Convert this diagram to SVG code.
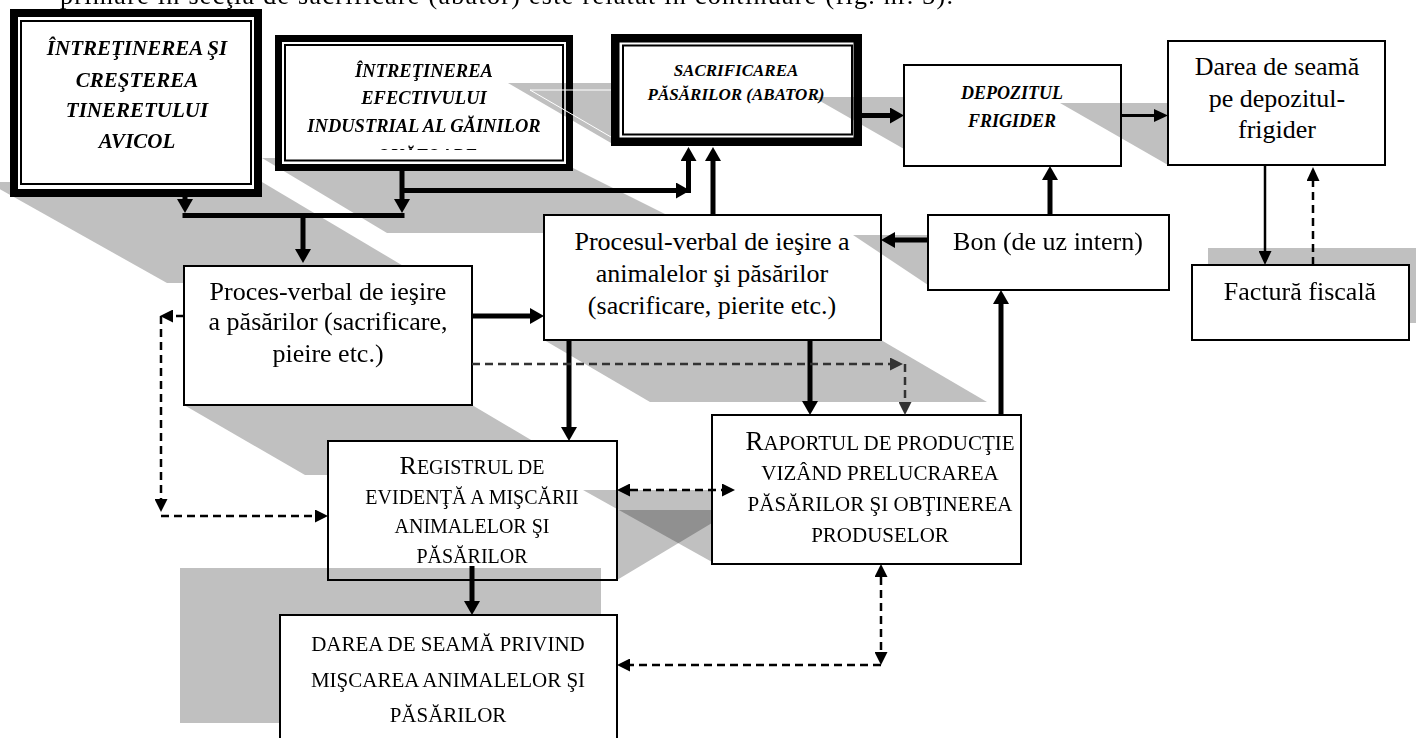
<svg xmlns="http://www.w3.org/2000/svg" width="1416" height="738" viewBox="0 0 1416 738">
<style>
.t{font-family:"Liberation Serif","Times New Roman",serif;font-size:26px;fill:#000;text-anchor:middle}
.bi{font-family:"Liberation Serif","Times New Roman",serif;font-weight:bold;font-style:italic}
.box{fill:#fff;stroke:#000;stroke-width:2}
.frame{fill:none;stroke:#000}
.shu{fill:#c0c0c0}
.sho{fill:#c0c0c0;mix-blend-mode:multiply}
.th{fill:none;stroke:#000;stroke-width:5}
.sl{fill:none;stroke:#000;stroke-width:2.5}
.ds{fill:none;stroke:#000;stroke-width:2.5;stroke-dasharray:8 5}
.dg{fill:none;stroke:#333;stroke-width:2.5;stroke-dasharray:8 5}
</style>
<defs>
<marker id="aT" viewBox="0 0 14 16" refX="0" refY="8" markerWidth="14" markerHeight="16" markerUnits="userSpaceOnUse" orient="auto-start-reverse"><path d="M0,0L14,8L0,16z" fill="#000"/></marker>
<marker id="aS" viewBox="0 0 14 13" refX="0" refY="6.5" markerWidth="14" markerHeight="13" markerUnits="userSpaceOnUse" orient="auto-start-reverse"><path d="M0,0L14,6.5L0,13z" fill="#000"/></marker>
<marker id="aD" viewBox="0 0 13 13" refX="0" refY="6.5" markerWidth="13" markerHeight="13" markerUnits="userSpaceOnUse" orient="auto-start-reverse"><path d="M0,0L13,6.5L0,13z" fill="#000"/></marker>
<marker id="aG" viewBox="0 0 13 13" refX="0" refY="6.5" markerWidth="13" markerHeight="13" markerUnits="userSpaceOnUse" orient="auto-start-reverse"><path d="M0,0L13,6.5L0,13z" fill="#333"/></marker>
<clipPath id="c2"><rect x="285" y="45" width="278" height="105"/></clipPath>
</defs>
<rect width="1416" height="738" fill="#fff"/>
<text class="t" x="60" y="4" style="text-anchor:start" textLength="893" lengthAdjust="spacing">primare în secţia de sacrificare (abator) este relatat în continuare (fig. nr. 3).</text>

<g id="shadows">
<polygon class="shu" points="-13,182 262,182 432,283 167,283"/>
<polygon class="shu" points="262,158 553,158 703,233 387,233"/>
<polygon class="shu" points="184,405 472,405 590,475 305,475"/>
<polygon class="shu" points="544,340 881,340 987,402 650,402"/>
<rect class="shu" x="1208" y="248" width="208" height="75"/>
</g>

<g id="n1">
<rect x="14" y="13" width="244" height="180" fill="#fff" stroke="#000" stroke-width="8"/>
<rect class="frame" x="21" y="21" width="230" height="163" stroke-width="2"/>
<text class="t bi" font-weight="bold" font-style="italic" style="font-size:21px"><tspan x="137" y="55">ÎNTREŢINEREA ŞI</tspan><tspan x="137" y="87">CREŞTEREA</tspan><tspan x="137" y="117">TINERETULUI</tspan><tspan x="137" y="148">AVICOL</tspan></text>
</g>

<g id="n2">
<rect x="278.5" y="38.5" width="291" height="129" fill="#fff" stroke="#000" stroke-width="7"/>
<rect class="frame" x="285" y="45" width="278" height="115.5" stroke-width="2"/>
<text class="t bi" font-weight="bold" font-style="italic" style="font-size:18.5px"><tspan x="424" y="77">ÎNTREŢINEREA</tspan><tspan x="424" y="104">EFECTIVULUI</tspan><tspan x="424" y="132">INDUSTRIAL AL GĂINILOR</tspan></text>
<text class="t bi" font-weight="bold" font-style="italic" style="font-size:18.5px" x="427" y="162" clip-path="url(#c2)">OUĂTOARE</text>
</g>

<g id="n3shadow">
<polygon class="sho" points="508,83 611,83 611,143"/>
<polyline points="611,90 530,90 611,137" fill="none" stroke="#fff" stroke-width="1"/>
</g>

<g id="n3">
<rect x="615.25" y="38.25" width="242.5" height="103.5" fill="#fff" stroke="#000" stroke-width="8.5"/>
<rect class="frame" x="623" y="45.5" width="229" height="89" stroke-width="2"/>
<text class="t bi" font-weight="bold" font-style="italic" style="font-size:17px"><tspan x="736" y="76">SACRIFICAREA</tspan><tspan x="736" y="100">PĂSĂRILOR (ABATOR)</tspan></text>
</g>
<polygon class="sho" points="813,97 904,97 904,149"/>

<g id="n4">
<rect class="box" x="904" y="65" width="217" height="101"/>
<text class="t bi" font-weight="bold" font-style="italic" style="font-size:18px"><tspan x="1012" y="99">DEPOZITUL</tspan><tspan x="1012" y="127">FRIGIDER</tspan></text>
</g>
<polygon class="sho" points="1060,103 1168,103 1168,165"/>

<g id="n5">
<rect class="box" x="1168" y="41" width="217" height="124"/>
<text class="t"><tspan x="1277" y="75">Darea de seamă</tspan><tspan x="1277" y="107">pe depozitul-</tspan><tspan x="1277" y="138">frigider</tspan></text>
</g>

<g id="n6">
<rect class="box" x="544" y="215" width="337" height="125"/>
<text class="t"><tspan x="712" y="250">Procesul-verbal de ieşire a</tspan><tspan x="712" y="282">animalelor şi păsărilor</tspan><tspan x="712" y="314">(sacrificare, pierite etc.)</tspan></text>
</g>
<polygon class="sho" points="853,235 928,235 928,285"/>

<g id="n7">
<rect class="box" x="928" y="215" width="241" height="75"/>
<text class="t" x="1048" y="250">Bon (de uz intern)</text>
</g>

<g id="n8">
<rect class="box" x="1192" y="265" width="217" height="75"/>
<text class="t" x="1300" y="300">Factură fiscală</text>
</g>

<g id="n9">
<rect class="box" x="184" y="266" width="288" height="139"/>
<text class="t"><tspan x="328" y="300">Proces-verbal de ieşire</tspan><tspan x="328" y="330">a păsărilor (sacrificare,</tspan><tspan x="328" y="362">pieire etc.)</tspan></text>
</g>

<g id="n10">
<rect class="box" x="328" y="441" width="289" height="139"/>
<text class="t" style="font-size:20px"><tspan x="472" y="474"><tspan style="font-size:26px">R</tspan>EGISTRUL DE</tspan><tspan x="472" y="504">EVIDENŢĂ A MIŞCĂRII</tspan><tspan x="472" y="533">ANIMALELOR ŞI</tspan><tspan x="472" y="563">PĂSĂRILOR</tspan></text>
</g>
<g id="n11shadow">
<polygon class="sho" points="583,490 712,490 712,562"/>
<polygon class="sho" points="617,510 712,510 712,523 617,580"/>
<rect class="sho" x="180" y="568" width="421" height="155"/>
</g>

<g id="n11">
<rect class="box" x="712" y="415" width="309" height="149"/>
<text class="t" style="font-size:21px"><tspan x="880" y="450"><tspan style="font-size:27px">R</tspan>APORTUL DE PRODUCŢIE</tspan><tspan x="880" y="480">VIZÂND PRELUCRAREA</tspan><tspan x="880" y="511">PĂSĂRILOR ŞI OBŢINEREA</tspan><tspan x="880" y="542">PRODUSELOR</tspan></text>
</g>

<g id="n12">
<rect class="box" x="280" y="615" width="337" height="135"/>
<text class="t" style="font-size:21px"><tspan x="448" y="651">DAREA DE SEAMĂ PRIVIND</tspan><tspan x="448" y="687">MIŞCAREA ANIMALELOR ŞI</tspan><tspan x="448" y="722">PĂSĂRILOR</tspan></text>
</g>

<g id="connectors">
<path class="th" d="M185,196V199" marker-end="url(#aT)"/>
<path class="th" d="M182.5,215.5H404.5"/>
<path class="th" d="M303,215V249" marker-end="url(#aT)"/>
<path class="th" d="M402,171V199" marker-end="url(#aT)"/>
<path class="th" d="M402,190.5H676" marker-end="url(#aT)"/>
<path class="th" d="M688.5,193V161" marker-end="url(#aT)"/>
<path class="th" d="M713,215V161" marker-end="url(#aT)"/>
<path class="th" d="M862,115.5H890" marker-end="url(#aT)"/>
<path d="M1121,115.5H1154" fill="none" stroke="#000" stroke-width="3" marker-end="url(#aS)"/>
<path class="sl" d="M1265,165V251" marker-end="url(#aS)"/>
<path class="ds" d="M1313,265V181" marker-end="url(#aS)"/>
<path class="th" d="M1050,215V180" marker-end="url(#aT)"/>
<path class="th" d="M928,240H895" marker-end="url(#aT)"/>
<path class="th" d="M1001,415V304" marker-end="url(#aT)"/>
<path class="th" d="M472,316H530" marker-end="url(#aT)"/>
<path class="th" d="M569,340V427" marker-end="url(#aT)"/>
<path class="th" d="M810,340V401" marker-end="url(#aT)"/>
<path class="th" d="M472,566V601" marker-end="url(#aT)"/>
<path class="dg" d="M472,364H890" marker-end="url(#aG)"/>
<path class="dg" d="M905,364V402" marker-end="url(#aG)"/>
<path class="ds" d="M184,316H173" marker-end="url(#aD)"/>
<path class="ds" d="M161,316V499" marker-end="url(#aD)"/>
<path class="ds" d="M161,516H315" marker-end="url(#aD)"/>
<path class="ds" d="M630,490H722" marker-start="url(#aD)" marker-end="url(#aD)"/>
<path class="ds" d="M881,577V652" marker-start="url(#aD)" marker-end="url(#aD)"/>
<path class="ds" d="M881,665H630" marker-end="url(#aD)"/>
</g>
</svg>
